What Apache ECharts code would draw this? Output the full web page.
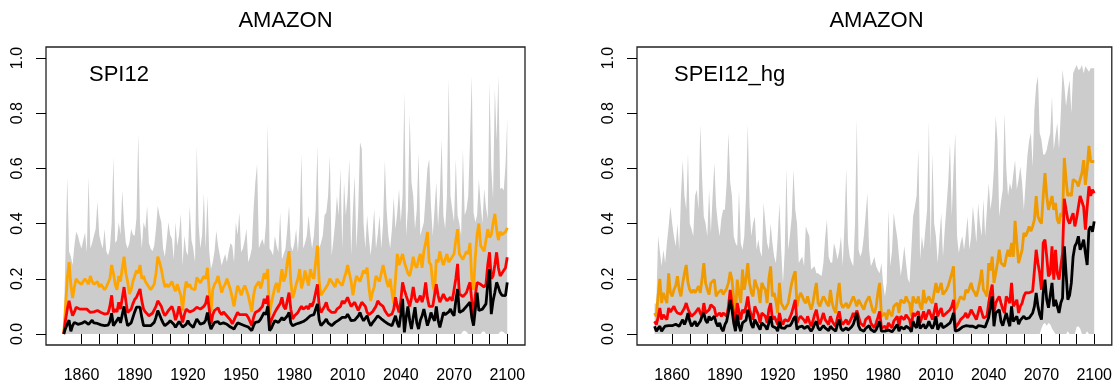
<!DOCTYPE html>
<html>
<head>
<meta charset="utf-8">
<script src="https://cdn.jsdelivr.net/npm/echarts@6/dist/echarts.min.js"></script>
<style>
html,body{margin:0;padding:0;background:#fff;}
#chart{width:1115px;height:387px;}
</style>
</head>
<body>
<div id="chart"></div>
<script>
// ---------------- DATA ----------------
const START_YEAR = 1850, END_YEAR = 2100;
const xTickValues = [1860,1870,1880,1890,1900,1910,1920,1930,1940,1950,1960,1970,1980,1990,2000,2010,2020,2030,2040,2050,2060,2070,2080,2090,2100];
const xLabelValues = [1860,1890,1920,1950,1980,2010,2040,2070,2100];
const yTickValues = [0,0.2,0.4,0.6,0.8,1.0];
const panelTitles = ['AMAZON','AMAZON'];
const panelLabels = ['SPI12','SPEI12_hg'];

// ---- Left panel: SPI12 ----
const spi12Orange = [
0.00,0.10,0.20,0.26,0.18,0.13,0.17,0.20,0.19,0.19,
0.18,0.19,0.20,0.19,0.18,0.21,0.19,0.18,0.18,0.19,
0.17,0.18,0.17,0.16,0.17,0.175,0.20,0.25,0.22,0.18,
0.16,0.21,0.19,0.24,0.28,0.22,0.19,0.145,0.16,0.19,
0.21,0.23,0.22,0.25,0.20,0.21,0.19,0.18,0.17,0.16,
0.17,0.18,0.22,0.28,0.26,0.235,0.20,0.17,0.18,0.17,
0.165,0.19,0.17,0.155,0.18,0.16,0.14,0.085,0.15,0.19,
0.17,0.18,0.165,0.17,0.16,0.205,0.20,0.185,0.19,0.21,
0.20,0.24,0.16,0.08,0.16,0.18,0.19,0.21,0.18,0.15,
0.17,0.18,0.20,0.18,0.16,0.13,0.10,0.14,0.175,0.16,
0.14,0.16,0.175,0.16,0.14,0.11,0.08,0.14,0.17,0.18,
0.19,0.165,0.19,0.22,0.20,0.235,0.07,0.11,0.14,0.17,
0.185,0.15,0.19,0.235,0.19,0.21,0.26,0.30,0.19,0.13,
0.15,0.18,0.20,0.235,0.165,0.19,0.23,0.20,0.175,0.235,
0.21,0.20,0.26,0.32,0.19,0.14,0.145,0.16,0.165,0.18,
0.20,0.19,0.18,0.17,0.20,0.19,0.185,0.175,0.20,0.22,
0.25,0.22,0.19,0.14,0.18,0.21,0.20,0.19,0.21,0.23,
0.22,0.24,0.17,0.12,0.15,0.17,0.21,0.20,0.19,0.22,
0.25,0.22,0.19,0.17,0.20,0.15,0.11,0.20,0.29,0.25,
0.27,0.29,0.26,0.24,0.22,0.21,0.24,0.28,0.25,0.24,
0.27,0.29,0.24,0.30,0.33,0.37,0.26,0.25,0.18,0.15,
0.27,0.26,0.30,0.27,0.25,0.27,0.29,0.26,0.27,0.28,
0.29,0.34,0.38,0.29,0.28,0.27,0.27,0.30,0.29,0.33,
0.20,0.16,0.28,0.36,0.40,0.32,0.31,0.30,0.34,0.38,
0.35,0.36,0.40,0.435,0.38,0.34,0.37,0.36,0.355,0.37,
0.385];
const spi12Red = [
0.00,0.05,0.09,0.12,0.09,0.066,0.08,0.097,0.09,0.09,
0.085,0.09,0.095,0.09,0.085,0.078,0.085,0.08,0.078,0.085,
0.08,0.078,0.075,0.072,0.078,0.075,0.10,0.14,0.078,0.09,
0.08,0.115,0.09,0.13,0.17,0.12,0.078,0.085,0.09,0.11,
0.125,0.133,0.14,0.163,0.12,0.09,0.08,0.075,0.066,0.07,
0.075,0.078,0.10,0.12,0.11,0.10,0.08,0.066,0.075,0.085,
0.09,0.10,0.08,0.05,0.07,0.10,0.07,0.042,0.07,0.09,
0.085,0.08,0.078,0.085,0.078,0.097,0.09,0.09,0.085,0.10,
0.11,0.139,0.09,0.036,0.07,0.085,0.09,0.095,0.078,0.07,
0.08,0.085,0.065,0.06,0.05,0.036,0.05,0.065,0.078,0.07,
0.065,0.07,0.066,0.07,0.06,0.045,0.03,0.06,0.078,0.08,
0.085,0.09,0.10,0.127,0.11,0.139,0.03,0.05,0.065,0.078,
0.09,0.10,0.11,0.133,0.10,0.09,0.12,0.15,0.09,0.054,
0.065,0.07,0.078,0.09,0.10,0.09,0.095,0.10,0.09,0.11,
0.10,0.12,0.15,0.18,0.10,0.078,0.085,0.10,0.115,0.09,
0.085,0.078,0.08,0.078,0.09,0.09,0.10,0.12,0.11,0.12,
0.133,0.115,0.10,0.105,0.115,0.10,0.085,0.10,0.115,0.11,
0.10,0.078,0.07,0.066,0.08,0.09,0.10,0.12,0.11,0.105,
0.10,0.085,0.075,0.066,0.07,0.072,0.09,0.133,0.10,0.078,
0.12,0.187,0.16,0.139,0.12,0.10,0.13,0.17,0.13,0.115,
0.125,0.139,0.115,0.14,0.187,0.13,0.10,0.10,0.10,0.14,
0.18,0.14,0.115,0.13,0.145,0.13,0.12,0.125,0.133,0.12,
0.115,0.20,0.254,0.145,0.14,0.135,0.133,0.15,0.17,0.187,
0.12,0.066,0.14,0.187,0.18,0.18,0.175,0.17,0.18,0.25,
0.296,0.20,0.21,0.25,0.296,0.24,0.21,0.22,0.223,0.24,
0.278];
const spi12Black = [
0.00,0.02,0.035,0.05,0.01,0.03,0.042,0.04,0.035,0.04,
0.038,0.035,0.045,0.04,0.035,0.04,0.05,0.04,0.035,0.038,
0.035,0.033,0.036,0.03,0.035,0.032,0.045,0.075,0.03,0.04,
0.035,0.06,0.04,0.07,0.10,0.06,0.03,0.035,0.04,0.06,
0.08,0.097,0.09,0.097,0.06,0.03,0.035,0.03,0.024,0.03,
0.035,0.042,0.06,0.085,0.07,0.054,0.04,0.03,0.03,0.04,
0.048,0.05,0.035,0.024,0.03,0.045,0.042,0.025,0.018,0.035,
0.048,0.035,0.03,0.024,0.03,0.054,0.048,0.035,0.03,0.04,
0.05,0.078,0.04,0.018,0.03,0.042,0.04,0.045,0.036,0.03,
0.04,0.042,0.035,0.03,0.025,0.02,0.018,0.03,0.04,0.042,
0.035,0.03,0.03,0.035,0.025,0.018,0.012,0.03,0.042,0.04,
0.045,0.054,0.06,0.078,0.07,0.10,0.012,0.02,0.035,0.048,
0.045,0.042,0.05,0.06,0.05,0.055,0.065,0.078,0.04,0.03,
0.032,0.036,0.035,0.04,0.042,0.045,0.05,0.054,0.05,0.066,
0.06,0.07,0.09,0.109,0.05,0.03,0.035,0.045,0.054,0.04,
0.035,0.03,0.035,0.042,0.048,0.05,0.054,0.06,0.055,0.06,
0.072,0.06,0.048,0.05,0.05,0.054,0.065,0.078,0.06,0.048,
0.055,0.066,0.045,0.03,0.04,0.048,0.055,0.066,0.06,0.055,
0.054,0.045,0.04,0.036,0.035,0.03,0.035,0.066,0.04,0.024,
0.07,0.127,0.006,0.06,0.10,0.05,0.018,0.06,0.097,0.04,
0.018,0.05,0.066,0.09,0.06,0.03,0.05,0.078,0.06,0.048,
0.10,0.05,0.024,0.05,0.078,0.07,0.066,0.08,0.09,0.075,
0.066,0.12,0.163,0.078,0.08,0.085,0.09,0.10,0.105,0.115,
0.06,0.03,0.09,0.15,0.085,0.09,0.09,0.095,0.109,0.18,
0.235,0.072,0.12,0.15,0.187,0.17,0.15,0.14,0.133,0.139,
0.187];
const spi12Upper = [
0.02,0.30,0.567,0.30,0.28,0.25,0.32,0.37,0.356,0.33,
0.31,0.34,0.368,0.296,0.567,0.31,0.33,0.356,0.38,0.48,
0.36,0.33,0.31,0.38,0.30,0.284,0.31,0.40,0.64,0.33,
0.34,0.405,0.36,0.52,0.40,0.33,0.31,0.33,0.38,0.36,
0.356,0.42,0.725,0.40,0.31,0.405,0.38,0.465,0.33,0.31,
0.30,0.32,0.38,0.465,0.43,0.405,0.31,0.28,0.34,0.405,
0.36,0.344,0.27,0.405,0.32,0.36,0.435,0.248,0.356,0.30,
0.284,0.465,0.34,0.31,0.26,0.68,0.40,0.31,0.36,0.51,
0.31,0.50,0.30,0.235,0.26,0.30,0.374,0.32,0.284,0.248,
0.27,0.29,0.26,0.30,0.33,0.32,0.26,0.405,0.36,0.44,
0.296,0.31,0.34,0.38,0.26,0.28,0.31,0.45,0.55,0.616,
0.31,0.33,0.344,0.32,0.40,0.76,0.31,0.30,0.284,0.356,
0.32,0.296,0.44,0.27,0.29,0.31,0.38,0.465,0.32,0.30,
0.33,0.38,0.296,0.40,0.652,0.31,0.33,0.356,0.43,0.36,
0.31,0.356,0.45,0.68,0.31,0.33,0.356,0.43,0.44,0.50,
0.646,0.284,0.34,0.405,0.50,0.43,0.60,0.31,0.55,0.43,
0.50,0.634,0.284,0.45,0.574,0.31,0.45,0.695,0.67,0.40,
0.31,0.43,0.35,0.284,0.356,0.453,0.31,0.36,0.43,0.31,
0.40,0.628,0.45,0.356,0.31,0.38,0.495,0.38,0.44,0.525,
0.405,0.50,0.875,0.356,0.45,0.797,0.55,0.50,0.38,0.45,
0.658,0.356,0.38,0.405,0.50,0.60,0.634,0.465,0.356,0.45,
0.55,0.39,0.50,0.706,0.43,0.38,0.50,0.924,0.50,0.45,
0.405,0.634,0.43,0.40,0.356,0.67,0.43,0.45,0.50,0.70,
0.936,0.44,0.405,0.43,0.56,0.47,0.40,0.525,0.46,0.417,
0.91,0.60,0.49,0.89,0.70,0.936,0.525,0.53,0.52,0.61,
0.78];
const spi12Lower = [
0,0,0,0,0,0,0,0,0,0, 0,0,0,0,0,0,0,0,0,0,
0,0,0,0,0,0,0,0,0,0, 0,0,0,0,0,0,0,0,0,0,
0,0,0,0,0,0,0,0,0,0, 0,0,0,0,0,0,0,0,0,0,
0,0,0,0,0,0,0,0,0,0, 0,0,0,0,0,0,0,0,0,0,
0,0,0,0,0,0,0,0,0,0, 0,0,0,0,0,0,0,0,0,0,
0,0,0,0,0,0,0,0,0,0, 0,0,0,0,0,0,0,0,0,0,
0,0,0,0,0,0,0,0,0,0, 0,0,0,0,0,0,0,0,0,0,
0,0,0,0,0,0,0,0,0,0, 0,0,0,0,0,0,0,0,0,0,
0,0,0,0,0,0,0,0,0,0, 0,0,0,0,0,0,0,0,0,0,
0,0,0,0,0,0,0,0,0,0, 0,0,0,0,0,0,0,0,0,0,
0,0,0,0,0,0,0,0,0,0, 0,0,0,0,0,0,0,0,0,0,
0,0,0,0,0,0.01,0.012,0.008,0,0, 0,0,0,0,0,0,0.008,0.01,0,0,
0,0,0,0,0,0,0.008,0.01,0.006,0,
0];

// ---- Right panel: SPEI12_hg ----
const spei12Orange = [
0.076,0.064,0.14,0.20,0.112,0.149,0.13,0.112,0.22,0.15,
0.136,0.16,0.175,0.209,0.16,0.136,0.185,0.22,0.25,0.185,
0.16,0.149,0.16,0.149,0.16,0.173,0.149,0.20,0.257,0.185,
0.16,0.143,0.185,0.19,0.197,0.136,0.149,0.155,0.16,0.143,
0.149,0.165,0.185,0.225,0.197,0.13,0.064,0.197,0.15,0.112,
0.233,0.16,0.20,0.257,0.185,0.15,0.136,0.197,0.175,0.16,
0.112,0.185,0.17,0.16,0.112,0.20,0.245,0.136,0.149,0.12,
0.076,0.185,0.112,0.10,0.088,0.10,0.112,0.15,0.185,0.21,
0.227,0.10,0.13,0.149,0.136,0.12,0.112,0.136,0.11,0.088,
0.112,0.15,0.185,0.112,0.10,0.12,0.136,0.124,0.11,0.10,
0.16,0.112,0.09,0.076,0.14,0.185,0.112,0.095,0.088,0.112,
0.094,0.105,0.112,0.136,0.12,0.10,0.124,0.112,0.10,0.088,
0.112,0.125,0.136,0.112,0.085,0.076,0.10,0.15,0.185,0.064,
0.07,0.076,0.052,0.088,0.075,0.064,0.10,0.105,0.112,0.076,
0.124,0.118,0.112,0.136,0.12,0.112,0.064,0.136,0.12,0.112,
0.136,0.10,0.088,0.16,0.112,0.125,0.136,0.12,0.112,0.15,
0.185,0.149,0.165,0.185,0.143,0.15,0.16,0.175,0.197,0.22,
0.245,0.088,0.10,0.12,0.136,0.13,0.124,0.16,0.149,0.165,
0.185,0.16,0.15,0.136,0.16,0.19,0.233,0.16,0.15,0.136,
0.257,0.23,0.28,0.185,0.22,0.257,0.305,0.257,0.25,0.245,
0.28,0.305,0.28,0.33,0.28,0.41,0.33,0.257,0.28,0.305,
0.366,0.354,0.37,0.39,0.372,0.39,0.414,0.50,0.426,0.41,
0.40,0.50,0.583,0.50,0.45,0.475,0.50,0.45,0.475,0.414,
0.40,0.438,0.426,0.638,0.56,0.50,0.51,0.50,0.56,0.565,
0.55,0.535,0.56,0.583,0.63,0.54,0.60,0.682,0.625,0.63,
0.625];
const spei12Red = [
0.046,0.034,0.06,0.094,0.052,0.07,0.06,0.052,0.094,0.08,
0.076,0.10,0.085,0.076,0.07,0.072,0.076,0.094,0.112,0.09,
0.076,0.064,0.07,0.076,0.08,0.094,0.075,0.064,0.112,0.076,
0.08,0.088,0.106,0.10,0.094,0.064,0.07,0.076,0.064,0.076,
0.07,0.064,0.10,0.16,0.11,0.076,0.04,0.112,0.08,0.052,
0.088,0.076,0.10,0.136,0.088,0.07,0.052,0.10,0.085,0.07,
0.04,0.076,0.07,0.064,0.04,0.09,0.112,0.052,0.064,0.05,
0.034,0.076,0.046,0.034,0.052,0.05,0.046,0.06,0.076,0.10,
0.124,0.04,0.055,0.064,0.058,0.05,0.04,0.064,0.045,0.028,
0.046,0.07,0.088,0.052,0.035,0.028,0.076,0.052,0.045,0.034,
0.064,0.046,0.036,0.028,0.06,0.082,0.046,0.035,0.028,0.052,
0.034,0.045,0.058,0.076,0.06,0.085,0.064,0.04,0.035,0.028,
0.052,0.058,0.064,0.04,0.03,0.022,0.04,0.06,0.082,0.022,
0.025,0.028,0.016,0.04,0.03,0.022,0.046,0.055,0.064,0.028,
0.064,0.058,0.052,0.07,0.06,0.052,0.022,0.076,0.065,0.058,
0.082,0.04,0.06,0.082,0.052,0.07,0.088,0.07,0.052,0.08,
0.112,0.064,0.08,0.094,0.064,0.07,0.076,0.08,0.088,0.10,
0.124,0.022,0.028,0.04,0.052,0.058,0.064,0.076,0.058,0.07,
0.088,0.076,0.065,0.052,0.076,0.10,0.08,0.058,0.06,0.064,
0.112,0.15,0.179,0.076,0.112,0.125,0.136,0.112,0.09,0.076,
0.136,0.125,0.112,0.185,0.10,0.11,0.124,0.076,0.10,0.112,
0.136,0.15,0.155,0.149,0.155,0.155,0.16,0.305,0.257,0.22,
0.16,0.33,0.342,0.28,0.209,0.22,0.318,0.197,0.305,0.22,
0.197,0.245,0.293,0.49,0.45,0.414,0.40,0.42,0.438,0.39,
0.42,0.46,0.50,0.48,0.46,0.378,0.46,0.535,0.50,0.523,
0.51];
const spei12Black = [
0.028,0.01,0.02,0.028,0.01,0.02,0.028,0.022,0.03,0.034,
0.03,0.028,0.035,0.04,0.028,0.04,0.052,0.034,0.05,0.076,
0.046,0.028,0.035,0.046,0.028,0.035,0.046,0.064,0.076,0.05,
0.04,0.064,0.05,0.046,0.064,0.04,0.028,0.04,0.02,0.01,
0.034,0.046,0.08,0.124,0.088,0.04,0.01,0.07,0.03,0.01,
0.04,0.034,0.05,0.088,0.064,0.035,0.022,0.052,0.04,0.028,
0.016,0.04,0.035,0.028,0.016,0.04,0.064,0.028,0.025,0.022,
0.01,0.046,0.022,0.015,0.02,0.028,0.022,0.03,0.04,0.055,
0.064,0.016,0.025,0.03,0.028,0.02,0.016,0.028,0.02,0.01,
0.02,0.035,0.046,0.022,0.014,0.012,0.03,0.022,0.016,0.012,
0.028,0.02,0.015,0.01,0.035,0.052,0.02,0.012,0.01,0.022,
0.014,0.018,0.025,0.035,0.028,0.076,0.03,0.016,0.014,0.01,
0.02,0.025,0.03,0.016,0.01,0.008,0.016,0.03,0.046,0.01,
0.012,0.01,0.006,0.014,0.01,0.008,0.016,0.022,0.034,0.01,
0.025,0.022,0.018,0.028,0.022,0.02,0.008,0.046,0.03,0.022,
0.064,0.02,0.025,0.035,0.02,0.028,0.046,0.03,0.02,0.035,
0.064,0.016,0.03,0.04,0.022,0.025,0.03,0.034,0.04,0.055,
0.076,0.01,0.008,0.015,0.022,0.025,0.02,0.03,0.025,0.028,
0.03,0.028,0.025,0.022,0.03,0.035,0.028,0.022,0.025,0.03,
0.06,0.10,0.136,0.028,0.076,0.08,0.088,0.045,0.03,0.028,
0.076,0.05,0.028,0.10,0.045,0.05,0.064,0.035,0.05,0.045,
0.064,0.055,0.05,0.058,0.064,0.076,0.10,0.149,0.10,0.07,
0.052,0.149,0.197,0.124,0.095,0.10,0.185,0.10,0.124,0.10,
0.076,0.112,0.13,0.318,0.22,0.124,0.14,0.185,0.28,0.318,
0.33,0.354,0.305,0.32,0.342,0.293,0.25,0.378,0.39,0.37,
0.408];
const spei12Upper = [
0.11,0.11,0.354,0.30,0.245,0.305,0.257,0.33,0.39,0.463,
0.40,0.354,0.318,0.40,0.305,0.50,0.63,0.50,0.45,0.655,
0.40,0.38,0.354,0.50,0.523,0.45,0.758,0.57,0.426,0.40,
0.354,0.523,0.366,0.50,0.62,0.463,0.40,0.354,0.42,0.45,
0.45,0.547,0.728,0.55,0.50,0.354,0.33,0.318,0.523,0.33,
0.305,0.354,0.50,0.76,0.463,0.354,0.40,0.426,0.305,0.342,
0.30,0.28,0.475,0.40,0.33,0.305,0.40,0.33,0.28,0.257,
0.35,0.475,0.305,0.185,0.30,0.60,0.305,0.36,0.426,0.595,
0.45,0.40,0.257,0.27,0.28,0.245,0.39,0.37,0.354,0.233,
0.24,0.245,0.22,0.22,0.215,0.21,0.257,0.35,0.414,0.28,
0.26,0.257,0.33,0.305,0.27,0.30,0.354,0.245,0.40,0.60,
0.33,0.28,0.26,0.245,0.40,0.777,0.305,0.28,0.30,0.354,
0.43,0.51,0.305,0.245,0.26,0.28,0.245,0.23,0.22,0.257,
0.18,0.136,0.185,0.45,0.245,0.30,0.438,0.39,0.35,0.28,
0.21,0.26,0.318,0.257,0.20,0.185,0.305,0.426,0.46,0.50,
0.668,0.27,0.354,0.305,0.38,0.45,0.77,0.305,0.655,0.40,
0.354,0.257,0.35,0.438,0.28,0.378,0.463,0.55,0.69,0.426,
0.60,0.728,0.354,0.293,0.33,0.354,0.305,0.36,0.426,0.305,
0.354,0.463,0.40,0.33,0.475,0.40,0.354,0.487,0.354,0.45,
0.547,0.45,0.50,0.60,0.79,0.70,0.426,0.48,0.523,0.80,
0.60,0.50,0.547,0.523,0.58,0.63,0.523,0.56,0.607,0.547,
0.45,0.55,0.644,0.70,0.728,0.607,0.813,0.90,0.934,0.728,
0.704,0.65,0.65,0.668,0.70,0.728,0.861,0.668,0.72,0.765,
0.668,0.80,0.958,0.90,0.825,0.88,0.92,0.80,0.945,0.96,
0.975,0.957,0.96,0.975,0.945,0.97,0.96,0.95,0.963,0.963,
0.963];
const spei12Lower = [
0,0,0,0,0,0,0,0,0,0, 0,0,0,0,0,0,0,0,0,0,
0,0,0,0,0,0,0,0,0,0, 0,0,0,0,0,0,0,0,0,0,
0,0,0,0,0,0,0,0,0,0, 0,0,0,0,0,0,0,0,0,0,
0,0,0,0,0,0,0,0,0,0, 0,0,0,0,0,0,0,0,0,0,
0,0,0,0,0,0,0,0,0,0, 0,0,0,0,0,0,0,0,0,0,
0,0,0,0,0,0,0,0,0,0, 0,0,0,0,0,0,0,0,0,0,
0,0,0,0,0,0,0,0,0,0, 0,0,0,0,0,0,0,0,0,0,
0,0,0,0,0,0,0,0,0,0, 0,0,0,0,0,0,0,0,0,0,
0,0,0,0,0,0,0,0,0,0, 0,0,0,0,0,0,0,0,0,0,
0,0,0,0,0,0,0,0,0,0, 0,0,0,0,0,0,0,0,0,0,
0,0,0,0,0,0,0,0,0,0, 0,0,0,0,0,0,0,0,0,0,
0.02,0.035,0.04,0.03,0.04,0.035,0.02,0.01,0,0, 0,0,0,0,0,0.01,0,0,0,0,
0.025,0.028,0.02,0,0,0,0.01,0,0,0,
0];

// ---------------- CHART ----------------
const years = [];
for (let y = START_YEAR; y <= END_YEAR; y++) years.push(y);

const FONT = '"Liberation Sans", Arial, Helvetica, sans-serif';
const LINE_W = 2.8;
const gridBoxes = [
  {left: 46, top: 47, width: 479, height: 298},
  {left: 637, top: 47, width: 477, height: 298}
];

function xAxisFor(i) {
  return {
    type: 'value', gridIndex: i, min: 1840, max: 2110, interval: 10,
    axisLine: {show: false},
    splitLine: {show: false},
    axisTick: {show: true, customValues: xTickValues, length: 10, lineStyle: {color: '#000', width: 1}},
    axisLabel: {show: true, customValues: xLabelValues, margin: 23, fontSize: 16, color: '#000', fontFamily: FONT,
      formatter: v => String(v)}
  };
}
function yAxisFor(i) {
  return {
    type: 'value', gridIndex: i, min: -0.04, max: 1.04,
    axisLine: {show: false},
    splitLine: {show: false},
    axisTick: {show: true, customValues: yTickValues, length: 10, lineStyle: {color: '#000', width: 1}},
    axisLabel: {show: true, customValues: yTickValues, rotate: 90, margin: 20, fontSize: 16, color: '#000', fontFamily: FONT,
      formatter: v => Number(v).toFixed(1)}
  };
}
function pts(arr) { return arr.map((v, i) => [years[i], v]); }

function bandSeries(i, lower, upper) {
  return {
    type: 'custom', coordinateSystem: 'cartesian2d', xAxisIndex: i, yAxisIndex: i,
    silent: true, animation: false, clip: true,
    data: [[years[0], lower[0]]],
    renderItem: function (params, api) {
      const top = years.map((y, k) => api.coord([y, upper[k]]));
      const bottom = years.map((y, k) => api.coord([y, lower[k]])).reverse();
      return {type: 'polygon', shape: {points: top.concat(bottom)}, style: {fill: '#CCCCCC', stroke: null}};
    }
  };
}

function panelSeries(i, lower, upper, orange, red, black, orangeColor) {
  const base = {type: 'line', xAxisIndex: i, yAxisIndex: i, symbol: 'none', silent: true, animation: false};
  return [
    bandSeries(i, lower, upper),
    Object.assign({}, base, {data: pts(orange), lineStyle: {color: orangeColor, width: LINE_W}}),
    Object.assign({}, base, {data: pts(red), lineStyle: {color: '#FF0000', width: LINE_W}}),
    Object.assign({}, base, {data: pts(black), lineStyle: {color: '#000000', width: LINE_W}})
  ];
}

const chart = echarts.init(document.getElementById('chart'), null, {renderer: 'canvas'});
chart.setOption({
  animation: false,
  backgroundColor: '#ffffff',
  grid: gridBoxes.map(g => Object.assign({show: true, borderColor: '#222', borderWidth: 1.3, backgroundColor: 'transparent', containLabel: false}, g)),
  xAxis: [xAxisFor(0), xAxisFor(1)],
  yAxis: [yAxisFor(0), yAxisFor(1)],
  series: [].concat(
    panelSeries(0, spi12Lower, spi12Upper, spi12Orange, spi12Red, spi12Black, '#FFA500'),
    panelSeries(1, spei12Lower, spei12Upper, spei12Orange, spei12Red, spei12Black, '#EE9A00')
  ),
  graphic: [
    {type: 'text', x: gridBoxes[0].left + gridBoxes[0].width / 2, y: 21, style: {text: panelTitles[0], fontSize: 22, fontFamily: FONT, fill: '#000', align: 'center', verticalAlign: 'middle'}},
    {type: 'text', x: gridBoxes[1].left + 479 / 2, y: 21, style: {text: panelTitles[1], fontSize: 22, fontFamily: FONT, fill: '#000', align: 'center', verticalAlign: 'middle'}},
    {type: 'text', x: 89, y: 75, style: {text: panelLabels[0], fontSize: 22, fontFamily: FONT, fill: '#000', align: 'left', verticalAlign: 'middle'}},
    {type: 'text', x: 674, y: 75, style: {text: panelLabels[1], fontSize: 22, fontFamily: FONT, fill: '#000', align: 'left', verticalAlign: 'middle'}}
  ]
});
</script>
</body>
</html>
